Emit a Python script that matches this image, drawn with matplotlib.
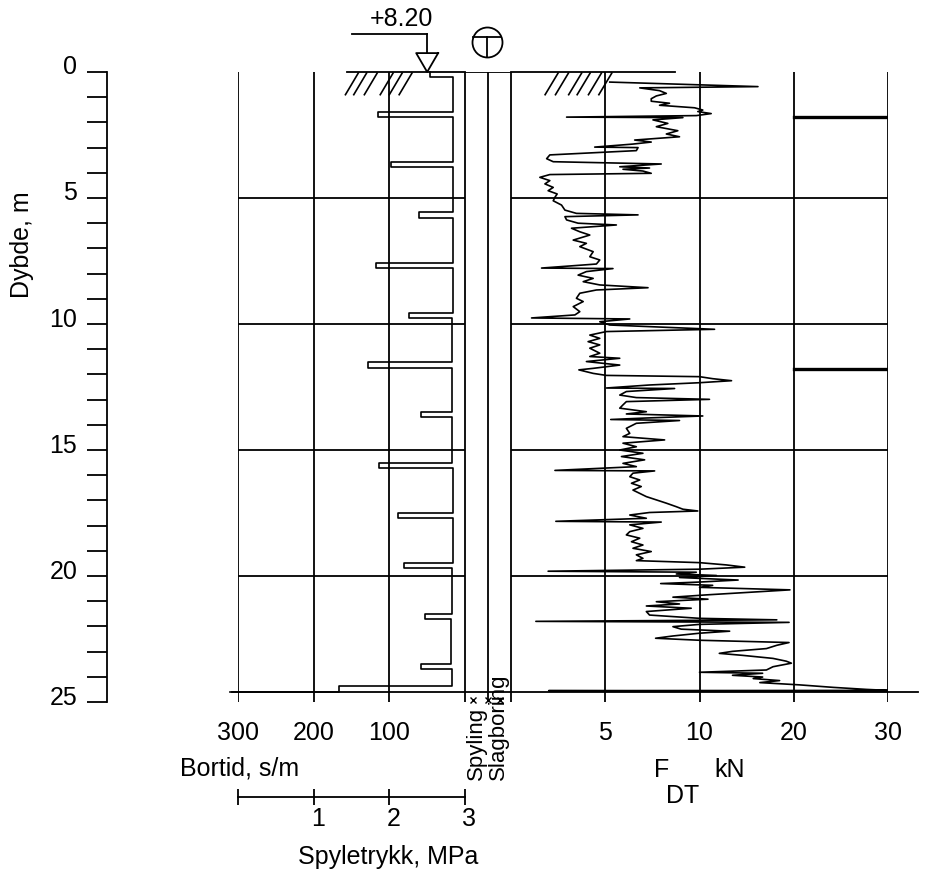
import numpy as np
import matplotlib
matplotlib.use("Agg")
import matplotlib.pyplot as plt
from matplotlib.transforms import ScaledTranslation

plt.rcParams['font.family'] = ['Liberation Sans', 'DejaVu Sans']
plt.rcParams['font.size'] = 18

end_depth = 24.6
elevation = "+8.20"

# bortid (s/m), constant over each depth interval
bt_top = [0.00, 0.20, 1.58, 1.80, 3.56, 3.78, 5.55, 5.78, 7.57, 7.77, 9.57, 9.77,
          11.50, 11.75, 13.50, 13.70, 15.50, 15.70, 17.50, 17.70, 19.50, 19.70,
          21.50, 21.70, 23.50, 23.70, 24.35]
bt_val = [46, 16.5, 115, 16.5, 98, 16.5, 61, 16.5, 118, 16.5, 74, 17.5,
          128, 17, 58, 17.5, 113, 16.5, 89, 16.5, 81, 17.5, 53, 18, 58, 17.5, 167]
bt_last = 310

# F (kN) against depth (m)
f_depth = [0.40, 0.58, 0.63, 0.74, 0.85, 0.95, 1.06, 1.16, 1.24, 1.32, 1.42, 1.51, 1.57,
           1.65, 1.73, 1.79, 1.81, 1.90, 2.04, 2.17, 2.33, 2.46, 2.57, 2.70, 2.78, 2.86,
           2.98, 3.00, 3.12, 3.29, 3.44, 3.56, 3.65, 3.76, 3.81, 3.86, 3.93, 4.02, 4.07,
           4.18, 4.31, 4.44, 4.58, 4.71, 4.84, 4.97, 5.11, 5.28, 5.48, 5.61, 5.67, 5.74,
           5.87, 6.00, 6.07, 6.20, 6.34, 6.47, 6.67, 6.80, 6.93, 7.13, 7.33, 7.46, 7.62,
           7.78, 7.80, 7.92, 8.06, 8.19, 8.32, 8.45, 8.56, 8.65, 8.78, 8.98, 9.11, 9.31,
           9.51, 9.64, 9.76, 9.80, 9.91, 10.04, 10.21, 10.30, 10.44, 10.57, 10.70, 10.83,
           10.96, 11.16, 11.29, 11.36, 11.49, 11.63, 11.76, 11.82, 11.96, 12.04, 12.09,
           12.17, 12.25, 12.33, 12.42, 12.54, 12.56, 12.68, 12.82, 12.92, 12.99, 13.08,
           13.21, 13.34, 13.48, 13.57, 13.65, 13.73, 13.79, 13.83, 13.94, 14.14, 14.34,
           14.47, 14.60, 14.73, 14.87, 15.00, 15.13, 15.26, 15.39, 15.53, 15.66, 15.81,
           15.83, 15.92, 16.06, 16.19, 16.32, 16.45, 16.59, 16.72, 16.85, 16.98, 17.11,
           17.25, 17.35, 17.42, 17.48, 17.58, 17.71, 17.83, 17.86, 17.97, 18.11, 18.24,
           18.37, 18.50, 18.64, 18.77, 18.90, 19.03, 19.16, 19.30, 19.39, 19.47, 19.56,
           19.65, 19.73, 19.81, 19.85, 19.92, 19.98, 20.06, 20.16, 20.24, 20.30, 20.37,
           20.45, 20.55, 20.75, 20.84, 20.92, 21.02, 21.11, 21.19, 21.28, 21.41, 21.55,
           21.68, 21.74, 21.80, 21.84, 21.92, 22.01, 22.11, 22.19, 22.27, 22.38, 22.47,
           22.55, 22.64, 22.75, 22.88, 22.99, 23.07, 23.15, 23.27, 23.38, 23.46, 23.60,
           23.73, 23.82, 23.86, 23.94, 24.01, 24.07, 24.15, 24.23, 24.32, 24.42, 24.50,
           24.54, 24.55, 24.58]
f_val = [5.24, 16.2, 6.83, 7.88, 8.24, 7.71, 7.44, 7.44, 8.41, 7.88, 9.74, 10.35, 9.91,
         11.24, 9.83, 2.95, 9.12, 7.53, 8.32, 7.71, 8.85, 8.24, 8.94, 6.56, 7.44, 6.47,
         4.44, 6.74, 6.65, 2.06, 1.89, 2.24, 7.97, 5.77, 7.35, 5.94, 7.00, 7.44, 2.06,
         1.53, 2.06, 1.80, 2.24, 1.97, 2.45, 2.33, 2.24, 2.68, 2.86, 3.47, 6.74, 2.86,
         2.95, 3.56, 5.59, 3.21, 3.65, 4.18, 3.30, 4.00, 3.65, 4.36, 4.18, 4.71, 4.53,
         1.62, 5.41, 4.00, 3.56, 4.36, 3.83, 4.71, 7.27, 4.53, 3.65, 3.47, 3.83, 3.30,
         3.65, 3.39, 1.09, 6.30, 4.71, 5.24, 11.6, 5.06, 4.18, 4.71, 4.09, 4.71,
         4.18, 4.71, 4.18, 5.77, 4.00, 5.77, 4.36, 3.60, 4.36, 5.06, 10.0,
         11.4, 13.4, 10.0, 7.35, 5.06, 8.68, 6.12, 5.77, 6.65, 11.06, 6.12,
         5.94, 5.77, 7.18, 6.12, 10.35, 7.18, 5.29, 8.94, 6.65, 6.12, 6.30,
         5.94, 8.15, 5.94, 6.65, 5.77, 7.00, 5.86, 7.09, 5.94, 6.65, 2.33,
         7.62, 6.47, 6.30, 6.83, 6.39, 6.91, 6.47, 6.83, 7.18, 7.71, 8.24,
         8.77, 9.12, 9.91, 7.35, 6.30, 7.18, 2.38, 7.97, 6.30, 7.00, 6.30,
         6.12, 6.83, 6.39, 7.00, 6.47, 7.44, 6.65, 7.00, 6.65, 10.0, 12.84,
         14.8, 10.0, 1.97, 9.83, 8.77, 11.8, 8.94, 14.1, 10.0, 7.94, 11.4,
         10.0, 19.6, 10.7, 8.59, 10.9, 7.71, 8.94, 7.18, 9.56, 7.18, 7.35,
         10.0, 18.2, 1.32, 19.5, 10.0, 8.59, 9.03, 13.2, 10.0, 8.59, 7.67,
         10.0, 19.5, 18.2, 17.1, 13.5, 12.1, 14.6, 17.8, 19.2, 19.75, 17.8,
         17.1, 10.0, 16.7, 13.5, 16.7, 15.7, 18.5, 16.4, 20.6, 24.2, 27.7,
         30.0, 2.0, 30.0]

dt_marks = [1.78, 11.78]   # thick marks in the 20-30 column
grid_depths = [5, 10, 15, 20]
bt_ticks = [300, 200, 100]
f_ticks = [5, 10, 20, 30]
p_ticks = [0, 1, 2, 3]
p_labels = ['', '1', '2', '3']

# ---- layout ----
W, H = 926, 872
LW = 1.3
fig = plt.figure(figsize=(W / 100, H / 100), dpi=100)


def box(x0, x1):
    return [x0 / W, 1 - 702 / H, (x1 - x0) / W, 630 / H]


def clean(ax):
    for s in ax.spines.values():
        s.set_visible(False)
    ax.set_yticks([])
    ax.set_ylim(25, 0)
    ax.patch.set_visible(False)


# depth axis
ax_d = fig.add_axes([107 / W, 1 - 702 / H, 0.01, 630 / H])
ax_d.set_ylim(25, 0)
for k in ['right', 'top', 'bottom']:
    ax_d.spines[k].set_visible(False)
ax_d.spines['left'].set_linewidth(LW)
ax_d.set_xticks([])
ax_d.patch.set_visible(False)
ax_d.set_yticks(range(0, 26))
ax_d.set_yticklabels([str(v) if v % 5 == 0 else '' for v in range(0, 26)])
ax_d.tick_params(axis='y', length=14.4, width=LW, pad=7)
for lab in ax_d.get_yticklabels():
    lab.set_transform(lab.get_transform() + ScaledTranslation(0, 0.07, fig.dpi_scale_trans))
fig.text(22 / W, 1 - 245 / H, "Dybde, m", rotation=90, ha='center', va='center')

# bortid panel
ax_b = fig.add_axes(box(238, 465))
clean(ax_b)
ax_b.set_xlim(300, 0)
ax_b.set_xticks(bt_ticks)
ax_b.tick_params(axis='x', length=0, pad=14)
for v in bt_ticks + [0]:
    ax_b.axvline(v, color='k', lw=LW)
for d in grid_depths:
    ax_b.axhline(d, color='k', lw=LW)
ax_b.axhline(end_depth, xmin=-0.027, xmax=1, color='k', lw=LW, clip_on=False)
ax_b.axhline(0, xmin=0.48, xmax=1, color='k', lw=LW, clip_on=False)

bt_bot = bt_top[1:] + [end_depth]
bx, by = [], []
for t, b, v in zip(bt_top, bt_bot, bt_val):
    bx += [v, v]
    by += [t, b]
bx.append(bt_last)
by.append(end_depth)
ax_b.plot(bx, by, color='k', lw=1.2, clip_on=False)

# hatching and water level symbol
for b in [141, 130, 116, 95, 83, 70]:
    ax_b.plot([b, b + 17], [0.04, 0.9], color='k', lw=1.2, clip_on=False)
ax_b.plot([149, 50], [-1.51, -1.51], color='k', lw=LW, clip_on=False)
ax_b.plot([50, 50], [-1.51, -0.75], color='k', lw=LW, clip_on=False)
ax_b.plot([35.5, 64.5, 50, 35.5], [-0.75, -0.75, 0, -0.75], color='k', lw=LW, clip_on=False)
ax_b.text(84, -2.1, elevation, ha='center', va='center')

# spyling / slagboring columns
ax_s = fig.add_axes(box(465, 511))
clean(ax_s)
ax_s.set_xlim(0, 2)
ax_s.set_xticks([])
for v in [0, 1, 2]:
    ax_s.axvline(v, color='k', lw=LW)
ax_s.axhline(0, color='k', lw=LW)
ax_s.axhline(end_depth, color='k', lw=LW)
ax_s.plot([0.35, 1.0, 1.52], [24.92] * 3, 'x', color='k', ms=4, mew=1, clip_on=False)
ax_s.text(0.24, -0.124, "Spyling", rotation=90, ha='center', va='bottom',
          fontsize=16, transform=ax_s.transAxes)
ax_s.text(0.73, -0.124, "Slagboring", rotation=90, ha='center', va='bottom',
          fontsize=16, transform=ax_s.transAxes)
ax_s.plot(0.96, -1.19, 'o', ms=21.6, mfc='none', mec='k', mew=1.3, clip_on=False)
ax_s.plot([0.35, 1.57], [-1.39, -1.39], color='k', lw=LW, clip_on=False)
ax_s.plot([0.96, 0.96], [-1.39, -0.6], color='k', lw=LW, clip_on=False)

# F panel with split scale (0-10 full, 10-30 half)
def fwd(x):
    x = np.asarray(x, dtype=float)
    return np.where(x <= 10, x, 10 + (x - 10) / 2)


def inv(u):
    u = np.asarray(u, dtype=float)
    return np.where(u <= 10, u, 10 + (u - 10) * 2)


ax_f = fig.add_axes(box(511, 888))
clean(ax_f)
ax_f.set_xscale('function', functions=(fwd, inv))
ax_f.set_xlim(0, 30)
ax_f.set_xticks(f_ticks)
ax_f.set_xticklabels([str(v) for v in f_ticks])
ax_f.xaxis.set_minor_locator(plt.NullLocator())
ax_f.tick_params(axis='x', length=0, pad=14)
for v in [0] + f_ticks:
    ax_f.axvline(v, color='k', lw=LW)
for d in grid_depths:
    ax_f.axhline(d, color='k', lw=LW)
ax_f.axhline(end_depth, xmin=0, xmax=1.08, color='k', lw=LW, clip_on=False)
ax_f.axhline(0, xmin=0, xmax=0.435, color='k', lw=LW, clip_on=False)
for F in [2.5, 3.05, 3.75, 4.2, 4.8, 5.35]:
    ax_f.plot([F, F - 0.69], [0.04, 0.9], color='k', lw=1.2, clip_on=False)
for d in dt_marks:
    ax_f.plot([20, 30], [d, d], color='k', lw=2.4)
ax_f.plot(f_val, f_depth, color='k', lw=1.2)
ax_f.text(0.40, -0.108, "F", ha='center', va='center', transform=ax_f.transAxes)
ax_f.text(0.58, -0.108, "kN", ha='center', va='center', transform=ax_f.transAxes)
ax_f.text(0.454, -0.149, "DT", ha='center', va='center', transform=ax_f.transAxes)

fig.text(240 / W, 1 - 768 / H, "Bortid, s/m", ha='center', va='center')

# spyletrykk scale bar
ax_p = fig.add_axes([238 / W, 1 - 797 / H, 227 / W, 0.01])
for k in ['left', 'right', 'top']:
    ax_p.spines[k].set_visible(False)
ax_p.spines['bottom'].set_linewidth(LW)
ax_p.patch.set_visible(False)
ax_p.set_yticks([])
ax_p.set_xlim(0, 3)
ax_p.set_xticks(p_ticks)
ax_p.set_xticklabels(p_labels)
ax_p.tick_params(axis='x', direction='inout', length=11, width=LW, pad=2)
for lab in ax_p.get_xticklabels():
    lab.set_transform(lab.get_transform() + ScaledTranslation(0.04, 0, fig.dpi_scale_trans))
fig.text(388 / W, 1 - 857 / H, "Spyletrykk, MPa", ha='center', va='center')

fig.savefig("out.png", dpi=100)
